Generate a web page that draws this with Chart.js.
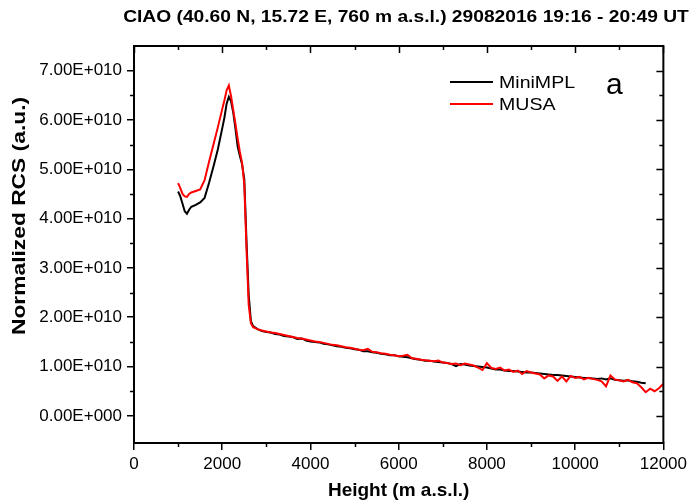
<!DOCTYPE html>
<html>
<head>
<meta charset="utf-8">
<script src="https://cdn.jsdelivr.net/npm/chart.js@4/dist/chart.umd.min.js"></script>
<style>
  html, body { margin: 0; padding: 0; background: #fff; }
  #wrap { width: 691px; height: 504px; position: relative; }
</style>
</head>
<body>
<div id="wrap"><canvas id="rcsChart"></canvas></div>
<script>
// heights (m a.s.l.) shared by both lidars
const heights = [
  1000, 1050, 1100, 1150, 1200, 1250, 1300, 1400, 1500, 1600,
  1700, 1800, 1900, 2000, 2050, 2100, 2150, 2200, 2250, 2300,
  2350, 2400, 2450, 2500, 2550, 2600, 2650, 2700, 2800, 2900,
  3000, 3100, 3200, 3300, 3400, 3500, 3600, 3700, 3800, 3900,
  4000, 4100, 4200, 4300, 4400, 4500, 4600, 4700, 4800, 4900,
  5000, 5100, 5200, 5300, 5400, 5500, 5600, 5700, 5800, 5900,
  6000, 6100, 6200, 6300, 6400, 6500, 6600, 6700, 6800, 6900,
  7000, 7100, 7200, 7300, 7400, 7500, 7600, 7700, 7800, 7900,
  8000, 8100, 8200, 8300, 8400, 8500, 8600, 8700, 8800, 8900,
  9000, 9100, 9200, 9300, 9400, 9500, 9600, 9700, 9800, 9900,
  10000, 10100, 10200, 10300, 10400, 10500, 10600, 10700, 10800, 10900,
  11000, 11100, 11200, 11300, 11400, 11500, 11600, 11700, 11800, 11900,
  12000,
];

// normalized RCS, units of 1E+10
const miniMPL = [
  4.55, 4.45, 4.30, 4.15, 4.10, 4.18, 4.24, 4.28, 4.33, 4.42,
  4.72, 5.05, 5.40, 5.83, 6.05, 6.33, 6.47, 6.38, 6.15, 5.82,
  5.46, 5.27, 5.10, 4.80, 3.55, 2.45, 1.92, 1.82, 1.76, 1.72,
  1.70, 1.69, 1.66, 1.65, 1.62, 1.61, 1.60, 1.56, 1.57, 1.53,
  1.51, 1.50, 1.49, 1.46, 1.45, 1.43, 1.41, 1.40, 1.38, 1.37,
  1.35, 1.34, 1.31, 1.31, 1.29, 1.28, 1.26, 1.25, 1.23, 1.23,
  1.21, 1.20, 1.19, 1.17, 1.15, 1.14, 1.12, 1.12, 1.10, 1.09,
  1.08, 1.07, 1.05, 1.01, 1.05, 1.04, 1.02, 1.01, 1.00, 0.99,
  0.98, 0.96, 0.94, 0.94, 0.92, 0.91, 0.91, 0.90, 0.89, 0.88,
  0.88, 0.87, 0.86, 0.85, 0.84, 0.83, 0.83, 0.82, 0.81, 0.80,
  0.79, 0.78, 0.77, 0.77, 0.76, 0.75, 0.76, 0.74, 0.76, 0.73,
  0.72, 0.71, 0.72, 0.70, 0.69, 0.67, 0.66,
];

const musa = [
  4.72, 4.62, 4.50, 4.45, 4.44, 4.50, 4.53, 4.56, 4.59, 4.78,
  5.15, 5.50, 5.85, 6.22, 6.40, 6.60, 6.70, 6.48, 6.20, 5.92,
  5.62, 5.35, 5.13, 4.70, 3.40, 2.25, 1.88, 1.80, 1.76, 1.73,
  1.71, 1.69, 1.68, 1.66, 1.64, 1.62, 1.60, 1.58, 1.57, 1.55,
  1.53, 1.51, 1.50, 1.48, 1.46, 1.44, 1.43, 1.41, 1.39, 1.38,
  1.36, 1.34, 1.33, 1.36, 1.30, 1.29, 1.27, 1.26, 1.24, 1.23,
  1.21, 1.22, 1.24, 1.17, 1.16, 1.14, 1.13, 1.12, 1.11, 1.12,
  1.08, 1.07, 1.05, 1.06, 1.03, 1.06, 1.04, 1.02, 0.98, 0.93,
  1.07, 0.97, 0.95, 0.98, 0.92, 0.94, 0.89, 0.92, 0.85, 0.91,
  0.88, 0.86, 0.84, 0.76, 0.82, 0.80, 0.71, 0.80, 0.70, 0.81,
  0.77, 0.79, 0.74, 0.77, 0.75, 0.73, 0.70, 0.60, 0.82, 0.74,
  0.72, 0.70, 0.73, 0.68, 0.66, 0.58, 0.48, 0.55, 0.50, 0.56,
  0.65,
];

const xTicks = [0, 2000, 4000, 6000, 8000, 10000, 12000];
const yTicks = [0, 1e10, 2e10, 3e10, 4e10, 5e10, 6e10, 7e10];

const FONT = "'Liberation Sans', Arial, sans-serif";

function toPoints(vals) {
  return vals.map((v, i) => ({ x: heights[i], y: v * 1e10 }));
}

function sciLabel(v) {
  if (v === 0) return "0.00E+000";
  const e = Math.floor(Math.log10(Math.abs(v)) + 1e-9);
  const m = v / Math.pow(10, e);
  return m.toFixed(2) + "E+" + String(e).padStart(3, "0");
}

// frame, minor ticks, titles, legend and panel letter
const decor = {
  id: "decor",
  afterDraw(chart) {
    const { ctx, chartArea: a, scales } = chart;
    const xs = scales.x, ys = scales.y;
    ctx.save();
    ctx.strokeStyle = "#000";
    ctx.lineWidth = 2;
    ctx.beginPath();
    ctx.moveTo(a.left, a.top);
    ctx.lineTo(a.right, a.top);
    ctx.lineTo(a.right, a.bottom);
    ctx.stroke();

    ctx.lineWidth = 1.5;
    ctx.beginPath();
    for (let v = 0; v <= 12000; v += 1000) {
      const p = Math.round(xs.getPixelForValue(v)) + 0.5;
      const major = v % 2000 === 0;
      if (!major) {
        ctx.moveTo(p, a.bottom);
        ctx.lineTo(p, a.bottom + 4);
      }
      ctx.moveTo(p, a.top);
      ctx.lineTo(p, a.top + (major ? 7 : 4));
    }
    for (let v = 0; v <= 7e10; v += 5e9) {
      const p = Math.round(ys.getPixelForValue(v)) + 0.5;
      const major = v % 1e10 === 0;
      if (!major) {
        ctx.moveTo(a.left, p);
        ctx.lineTo(a.left - 4, p);
      }
      ctx.moveTo(a.right, p);
      ctx.lineTo(a.right - (major ? 7 : 4), p);
    }
    ctx.stroke();

    ctx.fillStyle = "#000";
    ctx.textAlign = "center";
    ctx.textBaseline = "middle";

    // title
    ctx.save();
    ctx.translate(406, 18);
    ctx.scale(1.2, 1);
    ctx.font = "bold 16px " + FONT;
    ctx.fillText("CIAO (40.60 N, 15.72 E, 760 m a.s.l.) 29082016 19:16 - 20:49 UT", 0, 0);
    ctx.restore();

    // y axis title
    ctx.save();
    ctx.translate(20, 216);
    ctx.rotate(-Math.PI / 2);
    ctx.scale(1.2, 1);
    ctx.font = "bold 19px " + FONT;
    ctx.fillText("Normalized RCS (a.u.)", 0, 0);
    ctx.restore();

    // legend
    ctx.textAlign = "left";
    chart.data.datasets.forEach((ds, i) => {
      const yy = 82 + i * 22;
      ctx.strokeStyle = ds.borderColor;
      ctx.lineWidth = 2;
      ctx.beginPath();
      ctx.moveTo(450, yy);
      ctx.lineTo(493, yy);
      ctx.stroke();
      ctx.save();
      ctx.translate(499, yy + 1);
      ctx.scale(1.15, 1);
      ctx.font = "17px " + FONT;
      ctx.fillText(ds.label, 0, 0);
      ctx.restore();
    });

    ctx.font = "30px " + FONT;
    ctx.fillText("a", 606, 86);
    ctx.restore();
  },
};

new Chart(document.getElementById("rcsChart"), {
  type: "line",
  data: {
    datasets: [
      {
        label: "MiniMPL",
        data: toPoints(miniMPL),
        borderColor: "#000000",
        borderWidth: 2,
        pointRadius: 0,
        order: 1,
      },
      {
        label: "MUSA",
        data: toPoints(musa),
        borderColor: "#ff0000",
        borderWidth: 2,
        pointRadius: 0,
        order: 0,
      },
    ],
  },
  options: {
    responsive: true,
    maintainAspectRatio: false,
    animation: false,
    layout: { padding: { top: 46, right: 24, left: 0, bottom: 0 } },
    plugins: {
      legend: { display: false },
      tooltip: { enabled: false },
    },
    scales: {
      x: {
        type: "linear",
        min: 0,
        max: 12000,
        afterBuildTicks: (s) => { s.ticks = xTicks.map((v) => ({ value: v })); },
        afterFit: (s) => { s.height = 61; },
        border: { display: true, color: "#000", width: 2 },
        grid: { drawOnChartArea: false, drawTicks: true, tickLength: 7, color: "#000", lineWidth: 1.5 },
        ticks: {
          color: "#000",
          padding: 4,
          maxRotation: 0,
          callback: (v) => String(v),
          font: { family: FONT, size: 17 },
        },
        title: {
          display: true,
          text: "Height (m a.s.l.)",
          color: "#000",
          font: { family: FONT, size: 19, weight: "bold" },
          padding: { top: 0, bottom: 2 },
        },
      },
      y: {
        type: "linear",
        min: -5.5e9,
        max: 7.5e10,
        afterBuildTicks: (s) => { s.ticks = yTicks.map((v) => ({ value: v })); },
        afterFit: (s) => { s.width = 134; },
        border: { display: true, color: "#000", width: 2 },
        grid: { drawOnChartArea: false, drawTicks: true, tickLength: 7, color: "#000", lineWidth: 1.5 },
        ticks: { color: "#000", padding: 5, callback: (v) => sciLabel(v), font: { family: FONT, size: 17 } },
        title: { display: false },
      },
    },
  },
  plugins: [decor],
});
</script>
</body>
</html>
